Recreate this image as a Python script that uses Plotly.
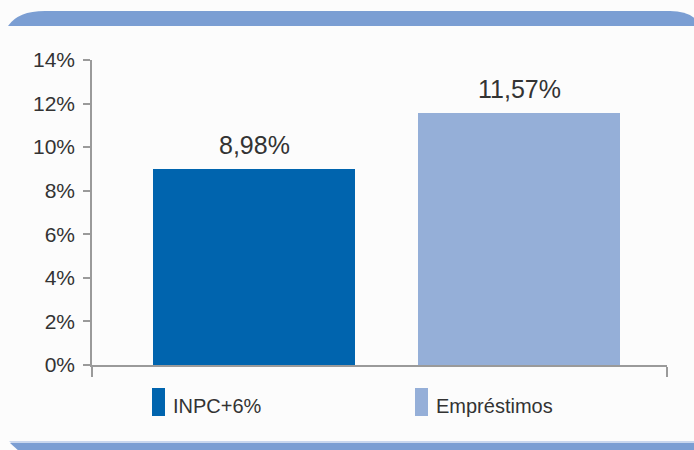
import plotly.graph_objects as go

# ---- data ----
categories = ["INPC+6%", "Empréstimos"]
values = [8.98, 11.57]
colors = ["#0064AE", "#95AFD8"]
y_ticks = [0, 2, 4, 6, 8, 10, 12, 14]
y_tick_labels = [f"{t}%" for t in y_ticks]

W, H = 694, 450
ML, MR, MT, MB = 92, 27, 60, 85
PW, PH = W - ML - MR, H - MT - MB

def px(x):
    return (x - ML) / PW

def py(y):
    return (H - MB - y) / PH

xs = list(range(len(categories)))
x_min, x_max = -0.6113, 1.5585
bar_w = 0.762
FONT = "Liberation Sans, Arial, sans-serif"
TXT = "#333333"
AX = "#9a9a9a"

fig = go.Figure()
fig.add_trace(go.Bar(
    x=xs, y=values, width=[bar_w] * len(xs),
    marker=dict(color=colors, line=dict(width=0)),
    hovertext=categories, hoverinfo="text+y", showlegend=False,
))

annotations = []
for x, v in zip(xs, values):
    annotations.append(dict(
        x=x, y=v, xref="x", yref="y", yanchor="bottom", yshift=8,
        text=f"{v:.2f}".replace(".", ",") + "%", showarrow=False,
        font=dict(family=FONT, size=25, color=TXT),
    ))

# manual legend
shapes = []
legend_x = [152, 415]
for lx, name, col in zip(legend_x, categories, colors):
    shapes.append(dict(type="rect", xref="paper", yref="paper",
                       x0=px(lx), x1=px(lx + 13), y0=py(416), y1=py(388),
                       fillcolor=col, line=dict(width=0)))
    annotations.append(dict(x=px(lx + 19), y=py(419), xref="paper", yref="paper",
                            xanchor="left", yanchor="bottom", text=name, showarrow=False,
                            font=dict(family=FONT, size=20, color=TXT)))

def path(pts):
    s = ""
    for cmd, coords in pts:
        s += cmd + " " + " ".join(f"{px(a):.5f},{py(b):.5f}" for a, b in coords) + " "
    return s + "Z"

band = "#7B9ED3"
shapes.append(dict(type="path", xref="paper", yref="paper", layer="below",
                   path=path([("M", [(8, 26)]), ("Q", [(18, 11), (45, 11)]),
                              ("L", [(670, 11)]), ("Q", [(690, 11), (698, 22)]),
                              ("L", [(698, 26)])]),
                   fillcolor=band, line=dict(width=0)))
shapes.append(dict(type="path", xref="paper", yref="paper", layer="below",
                   path=path([("M", [(9, 441)]), ("L", [(698, 441)]), ("L", [(698, 444)]),
                              ("L", [(12, 444)])]),
                   fillcolor="#C9D7EE", line=dict(width=0)))
shapes.append(dict(type="path", xref="paper", yref="paper", layer="below",
                   path=path([("M", [(10, 443)]), ("L", [(698, 443)]), ("L", [(698, 452)]),
                              ("L", [(20, 452)])]),
                   fillcolor=band, line=dict(width=0)))

fig.update_layout(
    width=W, height=H, margin=dict(l=ML, r=MR, t=MT, b=MB),
    paper_bgcolor="#FCFCFC", plot_bgcolor="#FCFCFC",
    font=dict(family=FONT, size=20, color=TXT),
    xaxis=dict(range=[x_min, x_max], showgrid=False, zeroline=False,
               showline=True, linecolor=AX, linewidth=1.5,
               tickvals=[x_min + 1e-6, x_max - 1e-6], ticks="outside", ticklen=10,
               tickcolor=AX, tickwidth=1.5, showticklabels=False, fixedrange=True),
    xaxis2=dict(range=[x_min, x_max], overlaying="x", anchor="y", side="bottom",
                showgrid=False, zeroline=False, showline=False,
                tickvals=[x_max - 1e-6], ticks="inside", ticklen=7,
                tickcolor=AX, tickwidth=1.5, showticklabels=False),
    yaxis=dict(range=[0, 14], tickvals=y_ticks, ticktext=y_tick_labels,
               showgrid=False, zeroline=False, showline=True, linecolor=AX, linewidth=1.5,
               ticks="outside", ticklen=7, tickcolor=AX, tickwidth=1.5,
               ticklabelstandoff=4,
               tickfont=dict(family=FONT, size=21, color=TXT)),
    yaxis2=dict(range=[0, 14], overlaying="y", anchor="x", side="left",
                tickvals=y_ticks, showgrid=False, zeroline=False, showline=False,
                ticks="inside", ticklen=7, tickcolor=AX, tickwidth=1.5,
                showticklabels=False),
    annotations=annotations, shapes=shapes, bargap=0,
)

fig.write_html("out.html")
